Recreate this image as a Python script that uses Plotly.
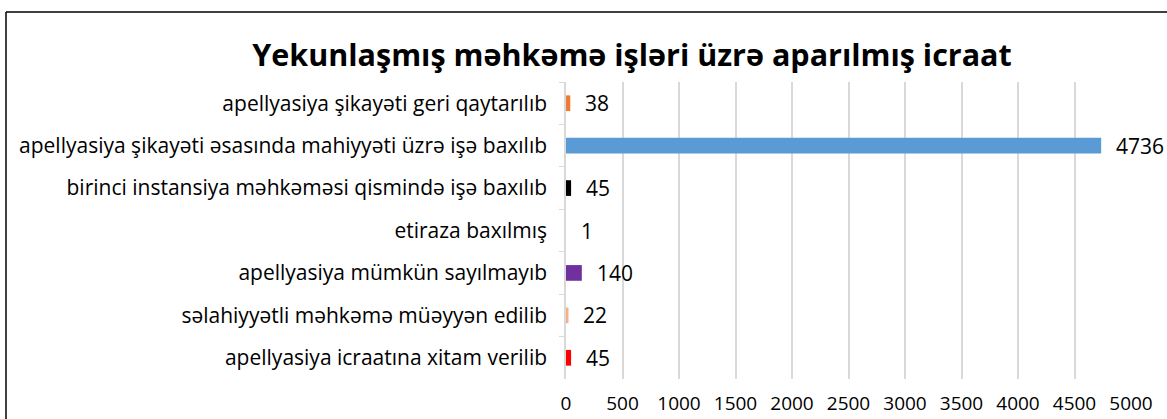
import plotly.graph_objects as go

# Categories listed top to bottom
categories = [
    "apellyasiya şikayəti geri qaytarılıb",
    "apellyasiya şikayəti əsasında mahiyyəti üzrə işə baxılıb",
    "birinci instansiya məhkəməsi qismində işə baxılıb",
    "etiraza baxılmış",
    "apellyasiya mümkün sayılmayıb",
    "səlahiyyətli məhkəmə müəyyən edilib",
    "apellyasiya icraatına xitam verilib",
]
values = [38, 4736, 45, 1, 140, 22, 45]
bar_colors = ["#ED7D31", "#5B9BD5", "#000000", "#FFFFFF", "#7030A0", "#F4B183", "#FF0000"]
x_ticks = [0, 500, 1000, 1500, 2000, 2500, 3000, 3500, 4000, 4500, 5000]

FONT = "Open Sans"
W, H = 1167, 419
ml, mr, mt, mb = 566, 36, 82, 40
pw, ph = W - ml - mr, H - mt - mb


def px_x(p):
    return (p - ml) / pw


def px_y(p):
    return (H - mb - p) / ph


fig = go.Figure()
fig.add_trace(go.Bar(
    y=categories,
    x=values,
    orientation="h",
    marker=dict(color=bar_colors, line=dict(width=0)),
    width=0.37,
    hoverinfo="x+y",
))

# value labels just past the end of each bar
for cat, v in zip(categories, values):
    fig.add_annotation(
        x=v, y=cat, text=str(v), showarrow=False,
        xanchor="left", yanchor="middle", xshift=13,
        font=dict(family=FONT, size=21, color="#000000"),
    )

# chart frame: left and top edges
fig.add_shape(type="line", xref="paper", yref="paper",
              x0=px_x(6), x1=px_x(6), y0=px_y(H + 20), y1=px_y(12),
              line=dict(color="#000000", width=1.5), layer="below")
fig.add_shape(type="line", xref="paper", yref="paper",
              x0=px_x(6), x1=px_x(W + 20), y0=px_y(12), y1=px_y(12),
              line=dict(color="#000000", width=1.5), layer="below")

fig.update_layout(
    width=W, height=H,
    margin=dict(l=ml, r=mr, t=mt, b=mb, autoexpand=False),
    paper_bgcolor="white", plot_bgcolor="white",
    showlegend=False,
    title=dict(
        text="<b>Yekunlaşmış məhkəmə işləri üzrə aparılmış icraat</b>",
        x=632 / W, xanchor="center", y=1 - 55 / H, yanchor="middle",
        font=dict(family=FONT, size=30.5, color="#000000"),
    ),
    xaxis=dict(
        range=[0, 5000], tickvals=x_ticks, ticktext=[str(t) for t in x_ticks],
        showgrid=True, gridcolor="#D9D9D9", gridwidth=1.5,
        zeroline=False, showline=False, ticks="",
        ticklabelstandoff=11, automargin=False,
        tickfont=dict(family=FONT, size=19, color="#000000"),
        fixedrange=True,
    ),
    yaxis=dict(
        categoryorder="array", categoryarray=categories, autorange="reversed",
        showgrid=False, showline=True, linecolor="#D9D9D9", linewidth=1.5,
        ticks="outside", tickson="boundaries", ticklen=5, tickcolor="#D9D9D9",
        tickfont=dict(family=FONT, size=21, color="#000000"),
        ticklabelstandoff=13, automargin=False,
        fixedrange=True,
    ),
)

fig.write_html("out.html")
